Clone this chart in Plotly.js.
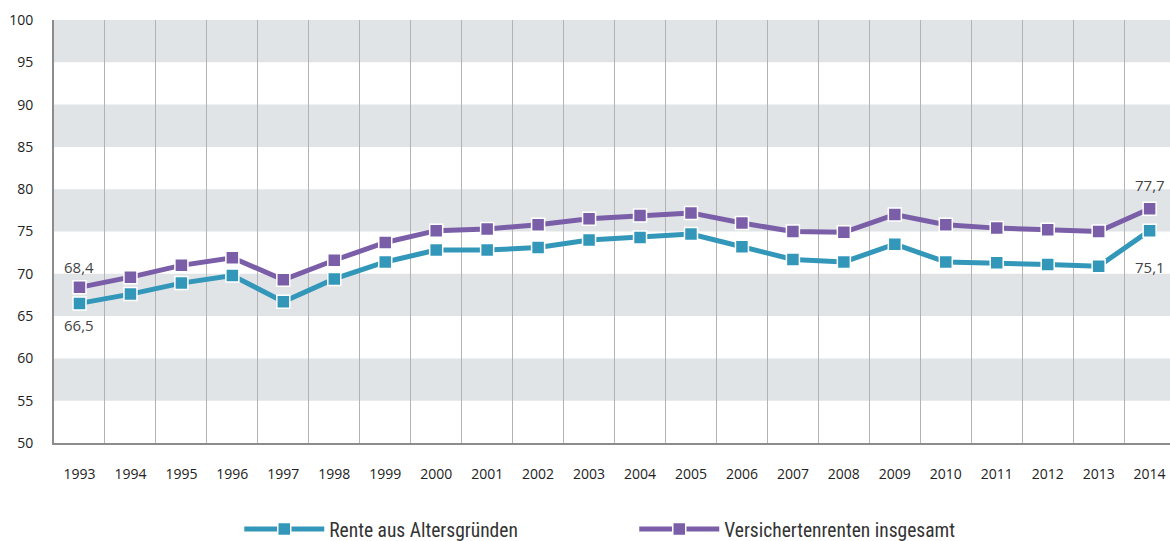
<!DOCTYPE html>
<html>
<head>
<meta charset="utf-8">
<script src="https://cdn.plot.ly/plotly-3.0.1.min.js"></script>
<style>
html,body{margin:0;padding:0;overflow:hidden;background:#fff;}
#chart{width:1170px;height:541px;}
</style>
</head>
<body>
<div id="chart"></div>
<script>
const years = ['1993','1994','1995','1996','1997','1998','1999','2000','2001','2002','2003','2004','2005','2006','2007','2008','2009','2010','2011','2012','2013','2014'];
const renteAlter = [66.5,67.6,68.9,69.8,66.7,69.4,71.4,72.8,72.8,73.1,74.0,74.3,74.7,73.2,71.7,71.4,73.5,71.4,71.3,71.1,70.9,75.1];
const versRenten = [68.4,69.6,71.0,71.9,69.3,71.6,73.7,75.1,75.3,75.8,76.5,76.9,77.2,76.0,75.0,74.9,77.0,75.8,75.4,75.2,75.0,77.7];
const seriesNames = ['Rente aus Altersgründen','Versichertenrenten insgesamt'];
const yTicks = [50,55,60,65,70,75,80,85,90,95,100];
const bandStarts = [55,65,75,85,95];

const fmt = v => v.toFixed(1).replace('.', ',');
const last = years.length - 1;

const teal = '#3397ba';
const purple = '#7b5ea8';

const traces = [
  {
    x: years, y: renteAlter, name: seriesNames[0], type: 'scatter', mode: 'lines+markers',
    line: {color: teal, width: 5},
    marker: {symbol: 'square', size: 13, color: teal, line: {color: '#ffffff', width: 1.5}},
    cliponaxis: false, hoverinfo: 'x+y'
  },
  {
    x: years, y: versRenten, name: seriesNames[1], type: 'scatter', mode: 'lines+markers',
    line: {color: purple, width: 5},
    marker: {symbol: 'square', size: 13, color: purple, line: {color: '#ffffff', width: 1.5}},
    cliponaxis: false, hoverinfo: 'x+y'
  }
];

// category axis: annotation x given as category index (years are numeric-looking strings)
const labelFont = {family: 'Open Sans, sans-serif', size: 15, color: '#444'};
const annotations = [
  {x: 0, y: versRenten[0], text: fmt(versRenten[0]), yshift: 20},
  {x: 0, y: renteAlter[0], text: fmt(renteAlter[0]), yshift: -22},
  {x: last, y: versRenten[last], text: fmt(versRenten[last]), yshift: 24},
  {x: last, y: renteAlter[last], text: fmt(renteAlter[last]), yshift: -36}
].map(a => Object.assign({xref: 'x', yref: 'y', showarrow: false, font: labelFont, xanchor: 'center', yanchor: 'middle'}, a));

const shapes = bandStarts.map(b => ({
  type: 'rect', xref: 'paper', yref: 'y', x0: 0, x1: 1, y0: b, y1: b + 5,
  fillcolor: '#e1e4e7', line: {width: 0}, layer: 'below'
}));

const layout = {
  width: 1170, height: 541,
  margin: {l: 54, r: 0, t: 20, b: 98, autoexpand: false},
  paper_bgcolor: '#ffffff', plot_bgcolor: '#ffffff',
  font: {family: 'Open Sans, sans-serif', size: 14, color: '#222'},
  showlegend: true,
  legend: {
    orientation: 'h', x: 0.166, xanchor: 'left', y: -0.158, yanchor: 'top',
    font: {family: 'Liberation Sans Narrow, Roboto Condensed, Roboto, sans-serif', size: 19.5, color: '#333'},
    entrywidth: 300, itemwidth: 80, traceorder: 'normal'
  },
  xaxis: {
    type: 'category', range: [-0.5, 21.4], tickson: 'boundaries',
    showgrid: true, gridcolor: '#b3b3b3', gridwidth: 1,
    showline: true, linecolor: '#8c8c8c', linewidth: 1.5,
    ticks: '', ticklabelstandoff: 18, tickfont: {size: 14, color: '#222'},
    zeroline: false, fixedrange: true
  },
  yaxis: {
    range: [50, 100], tickvals: yTicks, ticktext: yTicks.map(String),
    showgrid: false, showline: true, linecolor: '#8c8c8c', linewidth: 2,
    ticks: '', ticklabelstandoff: 16, tickfont: {size: 14, color: '#222'},
    zeroline: false, fixedrange: true
  },
  shapes: shapes,
  annotations: annotations
};

Plotly.newPlot('chart', traces, layout, {displayModeBar: false, staticPlot: true});
</script>
</body>
</html>
